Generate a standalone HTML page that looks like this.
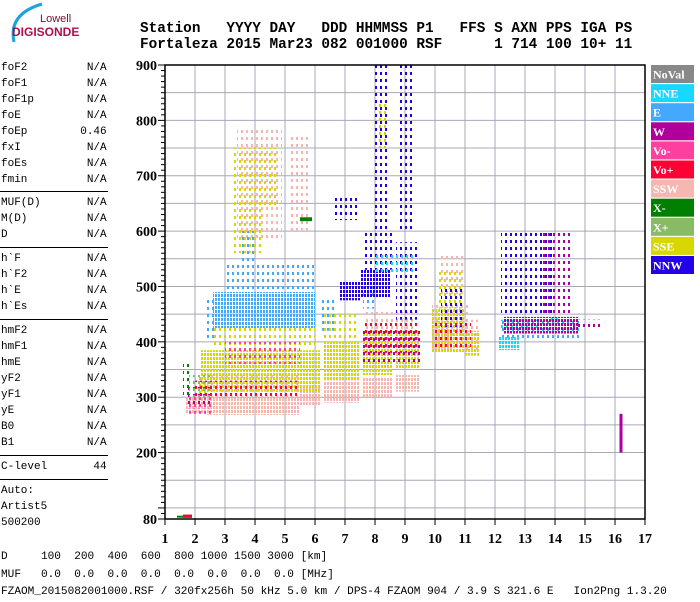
<!DOCTYPE html>
<html><head><meta charset="utf-8">
<style>
body{margin:0;background:#fff;width:700px;height:600px;overflow:hidden;position:relative;font-family:"Liberation Mono",monospace;}
pre{margin:0;position:absolute;}
.hdr{left:140px;font-weight:bold;font-size:14.4px;line-height:16px;color:#000;}
.side{left:1px;font-size:11px;line-height:16px;color:#000;}
.sep{position:absolute;left:0;width:108px;height:1px;background:#000;}
.bot{left:1px;font-size:11.1px;line-height:17.5px;}
</style></head><body>
<svg style="position:absolute;left:0;top:0" width="80" height="45">
<path d="M14 42 Q8 14 42 4" stroke="#1aa3dd" stroke-width="3" fill="none"/>
<text x="40" y="22" font-family="Liberation Sans,sans-serif" font-size="11" fill="#7a1030">Lowell</text>
<text x="12" y="36" font-family="Liberation Sans,sans-serif" font-size="12" font-weight="bold" fill="#b0104a">DIGISONDE</text>
</svg>
<pre class="hdr" style="top:21px">Station   YYYY DAY   DDD HHMMSS P1   FFS S AXN PPS IGA PS</pre>
<pre class="hdr" style="top:37px">Fortaleza 2015 Mar23 082 001000 RSF      1 714 100 10+ 11</pre>
<pre class="side" style="top:60px">foF2         N/A
foF1         N/A
foF1p        N/A
foE          N/A
foEp        0.46
fxI          N/A
foEs         N/A
fmin         N/A</pre>
<div class="sep" style="top:191px"></div>
<pre class="side" style="top:195px">MUF(D)       N/A
M(D)         N/A
D            N/A</pre>
<div class="sep" style="top:247px"></div>
<pre class="side" style="top:251px">h`F          N/A
h`F2         N/A
h`E          N/A
h`Es         N/A</pre>
<div class="sep" style="top:319px"></div>
<pre class="side" style="top:323px">hmF2         N/A
hmF1         N/A
hmE          N/A
yF2          N/A
yF1          N/A
yE           N/A
B0           N/A
B1           N/A</pre>
<div class="sep" style="top:455px"></div>
<pre class="side" style="top:459px">C-level       44</pre>
<div class="sep" style="top:479px"></div>
<pre class="side" style="top:483px">Auto:
Artist5
500200</pre>
<pre class="bot" style="top:549px">D     100  200  400  600  800 1000 1500 3000 [km]
MUF   0.0  0.0  0.0  0.0  0.0  0.0  0.0  0.0 [MHz]
FZAOM_2015082001000.RSF / 320fx256h 50 kHz 5.0 km / DPS-4 FZAOM 904 / 3.9 S 321.6 E   Ion2Png 1.3.20</pre>

<svg id="chart" style="position:absolute;left:0;top:0" width="700" height="600"></svg>
<script>
const xTicks=[1,2,3,4,5,6,7,8,9,10,11,12,13,14,15,16,17];
const yTicks=[80,200,300,400,500,600,700,800,900];
const legendNames=["NoVal","NNE","E","W","Vo-","Vo+","SSW","X-","X+","SSE","NNW"];
const legendColors=["#888888","#19d8ff","#44a8ff","#b0009b","#ff3fa0","#ff0035","#f7b6b0","#008000","#88bb66","#d8d800","#2200e8"];
// echo blocks: [fStart MHz, fEnd MHz, hStart km, hEnd km, dense]
const sswEchoes=[[1.7,2.4,270,300,1],[2.4,5.5,268,300,1],[5.5,6.2,285,320,1],[6.3,7.5,290,330,1],[7.6,8.6,300,335,1],[8.7,9.5,310,340,1],[9.9,11.2,400,470,0],[10.2,11.0,480,560,0],[11.0,11.5,380,440,0],[3.4,4.9,580,790,0],[5.2,5.8,600,770,0],[2.4,5.5,300,340,0],[7.6,9.3,420,460,0],[9.9,10.6,385,420,1]];
const sseEchoes=[[2.2,6.2,310,385,1],[2.0,2.4,300,340,0],[3.3,4.8,640,750,0],[3.3,4.3,560,640,0],[6.3,7.5,330,400,1],[7.6,8.6,340,420,1],[8.7,9.5,350,420,1],[9.9,11.0,380,460,1],[11.0,11.5,375,420,1],[10.1,10.9,460,530,0],[6.2,7.4,400,450,0],[2.6,6.0,390,430,0],[8.1,8.4,750,830,0]];
const eEchoes=[[2.6,6.0,425,490,1],[3.0,6.0,490,540,0],[2.4,2.7,400,480,0],[6.2,6.7,420,480,0],[12.2,14.8,405,445,0],[3.5,4.0,540,600,0],[7.6,8.0,460,500,0]];
const nneEchoes=[[12.1,12.8,385,410,1],[12.2,13.5,420,440,0],[8.0,9.3,520,560,0],[13.8,14.2,430,450,0]];
const nnwEchoes=[[6.8,7.5,475,510,1],[7.5,8.5,480,530,1],[7.6,8.6,530,600,0],[8.7,9.5,440,580,0],[6.6,7.5,620,665,0],[8.0,8.5,600,900,0],[8.8,9.3,600,900,0],[12.2,14.0,450,600,0],[10.2,11.0,420,500,0]];
const wEchoes=[[12.3,14.8,415,445,1],[14.5,15.5,420,440,0],[1.7,2.5,280,320,0],[7.6,9.5,360,420,0],[16.15,16.25,200,270,1],[13.5,14.5,450,600,0]];
const voPlusEchoes=[[2.0,5.5,300,330,0],[7.6,9.5,380,440,0],[1.6,1.9,82,88,1],[10.0,11.2,390,440,0]];
const voMinusEchoes=[[1.7,2.6,270,300,0],[3.0,5.5,360,400,0]];
const xMinusEchoes=[[1.6,1.8,300,360,0],[5.5,5.9,618,625,1],[1.4,1.6,84,86,1]];
const xPlusEchoes=[[1.8,2.6,300,340,0]];

const L=165,R=645,T=65,B=519;
function xs(f){return L+(f-1)*(R-L)/16;}
function ys(h){return T+(900-h)*(B-T)/820;}
const svg=document.getElementById('chart');
const NS='http://www.w3.org/2000/svg';
function mk(tag,attrs){const e=document.createElementNS(NS,tag);for(const k in attrs)e.setAttribute(k,attrs[k]);svg.appendChild(e);return e;}
const defs=document.createElementNS(NS,'defs');svg.appendChild(defs);
function addPat(id,c,w,h,ox,oy){
  const p=document.createElementNS(NS,'pattern');
  p.setAttribute('id',id);p.setAttribute('width',String(w));p.setAttribute('height',String(h));
  p.setAttribute('patternUnits','userSpaceOnUse');p.setAttribute('x',String(ox));p.setAttribute('y',String(oy));
  const r=document.createElementNS(NS,'rect');r.setAttribute('width','2');r.setAttribute('height','3');r.setAttribute('fill',c);
  p.appendChild(r);defs.appendChild(p);
}
legendColors.forEach((c,i)=>{
  addPat('pd'+i,c,3,4,i%3,i%4);
  addPat('ps'+i,c,5,7,i%5,(i*3)%7);
});
for(let h=100;h<=850;h+=50){
  const g=mk('line',{x1:L,x2:R,y1:ys(h),y2:ys(h),stroke:'#a8a8b8','stroke-width':1});
  
  
}
xTicks.forEach(f=>{
  if(f>1&&f<17){const g=mk('line',{x1:xs(f),x2:xs(f),y1:T,y2:B,stroke:'#a8a8b8','stroke-width':1});
  
  }
});
function drawSet(arr,ci,name){
  arr.forEach(b=>{
    const x0=xs(b[0]),x1=xs(b[1]),y0=ys(b[3]),y1=ys(b[2]);
    const small=(x1-x0)<6||(y1-y0)<6;
    const r=mk('rect',{x:x0,y:y0,width:Math.max(2,x1-x0),height:Math.max(2,y1-y0),fill:small?legendColors[ci]:(b[4]?'url(#pd'+ci+')':'url(#ps'+ci+')')});
    
    
  });
}
drawSet(sswEchoes,6,'echo-ssw');
drawSet(eEchoes,2,'echo-e');
drawSet(sseEchoes,9,'echo-sse');
drawSet(nnwEchoes,10,'echo-nnw');
drawSet(nneEchoes,1,'echo-nne');
drawSet(wEchoes,3,'echo-w');
drawSet(voPlusEchoes,5,'echo-vo-plus');
drawSet(voMinusEchoes,4,'echo-vo-minus');
drawSet(xMinusEchoes,7,'echo-x-minus');
drawSet(xPlusEchoes,8,'echo-x-plus');
const fr=mk('rect',{x:L,y:T,width:R-L,height:B-T,fill:'none',stroke:'#000','stroke-width':1.5});


for(let h=80;h<=900;h+=10){
  const major=(h%100===0)||h===80;
  const t=mk('line',{x1:L-(major?7:4),x2:L,y1:ys(h),y2:ys(h),stroke:'#000','stroke-width':1});
  
  
}
yTicks.forEach(h=>{
  const t=mk('text',{x:L-8,y:ys(h)+5,'text-anchor':'end','font-family':'Liberation Serif,serif','font-weight':'bold','font-size':14});
  t.textContent=h;
  
  
});
xTicks.forEach(f=>{
  const tk=mk('line',{x1:xs(f),x2:xs(f),y1:B,y2:B+6,stroke:'#000','stroke-width':1});
  
  
  const t=mk('text',{x:xs(f),y:543,'text-anchor':'middle','font-family':'Liberation Serif,serif','font-weight':'bold','font-size':14});
  t.textContent=f;
  
  
});
legendNames.forEach((n,i)=>{
  const y=65+i*19.1;
  const r=mk('rect',{x:651,y:y,width:43,height:18,fill:legendColors[i]});
  
  
  const t=mk('text',{x:653,y:y+13.5,fill:'#fff','font-family':'Liberation Serif,serif','font-weight':'bold','font-size':12});
  t.textContent=n;
  
  
});
</script>
</body></html>
